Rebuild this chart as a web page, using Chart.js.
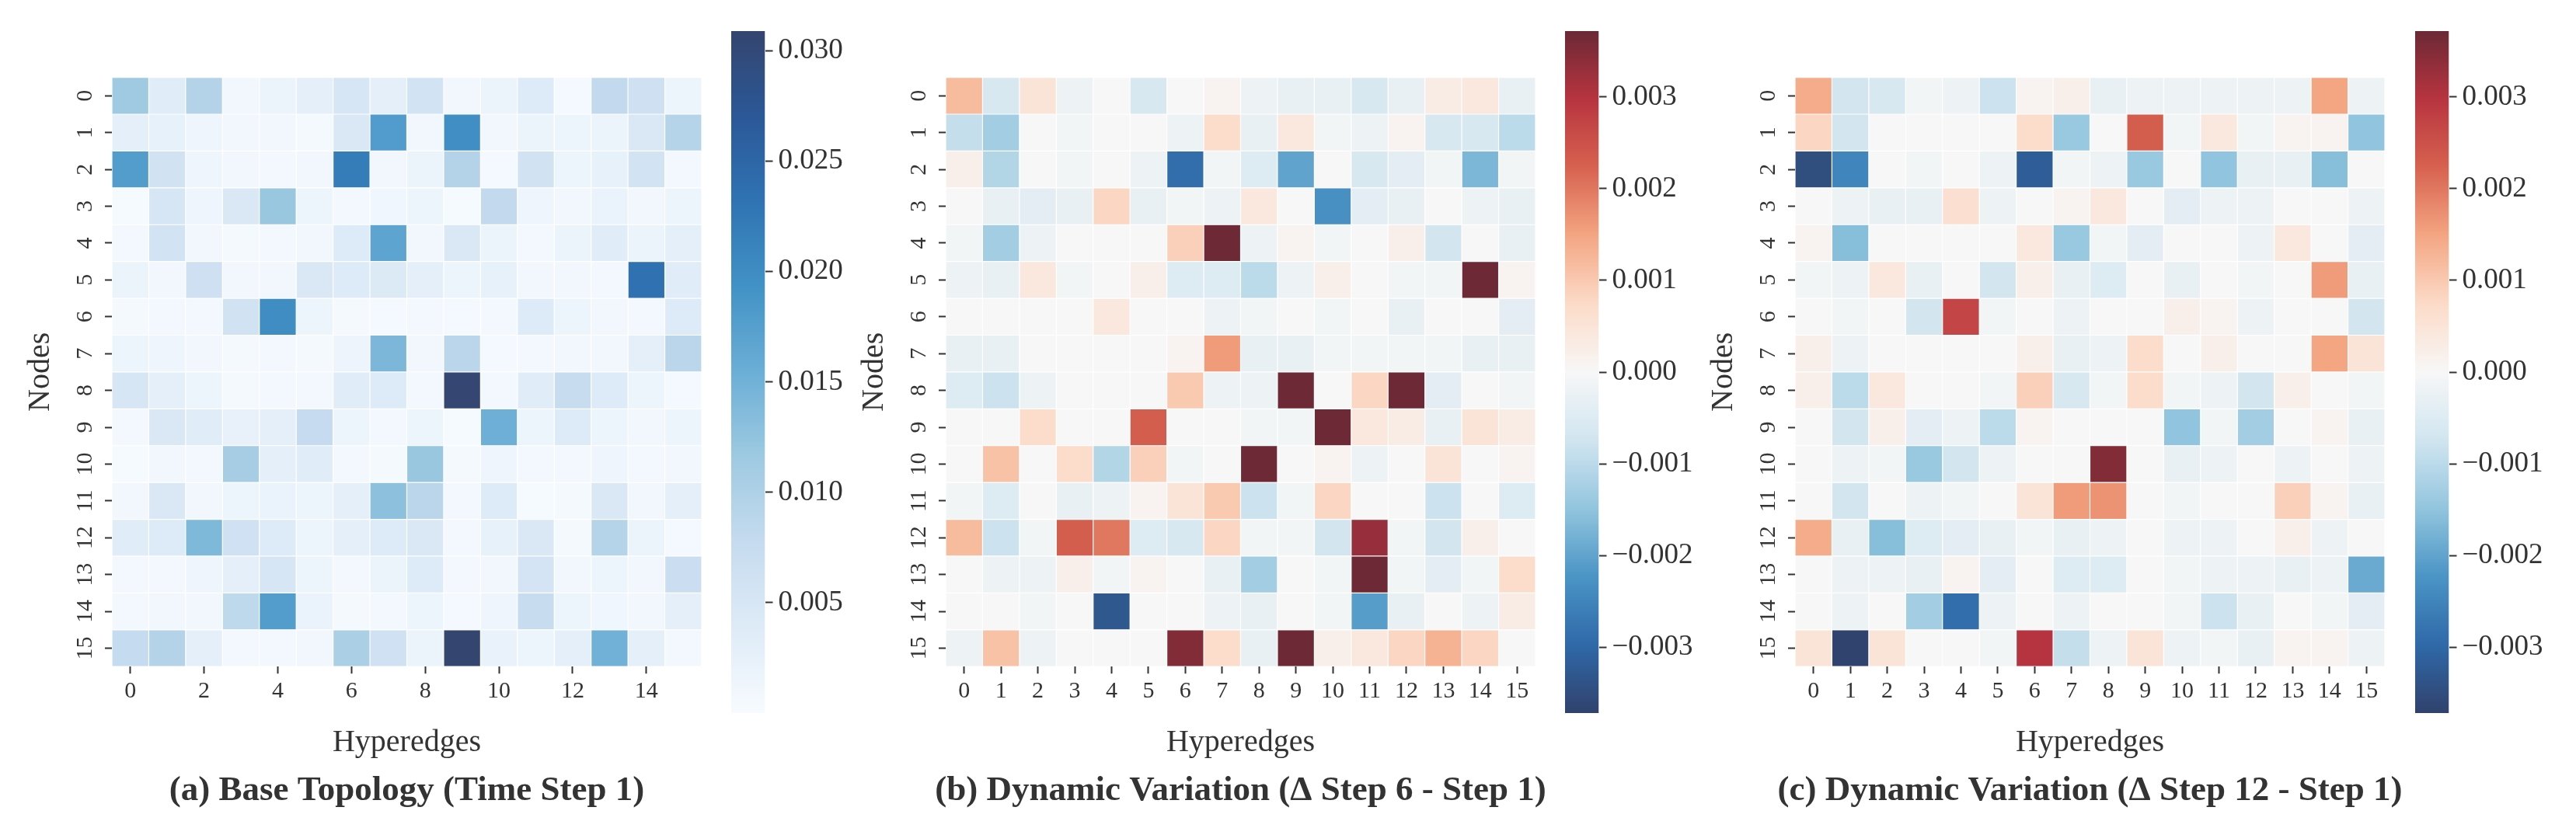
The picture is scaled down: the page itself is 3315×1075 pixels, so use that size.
<!DOCTYPE html>
<html>
<head>
<meta charset="utf-8">
<script src="https://cdn.jsdelivr.net/npm/chart.js@4.4.1/dist/chart.umd.min.js"></script>
<style>
  html, body { margin: 0; padding: 0; background: #ffffff; }
  body { width: 3315px; height: 1075px; position: relative; overflow: hidden; }
  canvas { position: absolute; top: 0; }
</style>
</head>
<body>
<canvas id="hmA" width="1047" height="1075" style="left:0px"></canvas>
<canvas id="cbA" width="200" height="1075" style="left:941px"></canvas>
<canvas id="hmB" width="1047" height="1075" style="left:1073px"></canvas>
<canvas id="cbB" width="200" height="1075" style="left:2014px"></canvas>
<canvas id="hmC" width="1047" height="1075" style="left:2166px"></canvas>
<canvas id="cbC" width="200" height="1075" style="left:3108px"></canvas>
<script>
// ---------------- DATA ----------------
const nodeLabels = ['0','1','2','3','4','5','6','7','8','9','10','11','12','13','14','15'];
const hyperedgeLabels = ['0','1','2','3','4','5','6','7','8','9','10','11','12','13','14','15'];

const titleA = '(a) Base Topology (Time Step 1)';
const titleB = '(b) Dynamic Variation (\u0394 Step 6 - Step 1)';
const titleC = '(c) Dynamic Variation (\u0394 Step 12 - Step 1)';

// (a) base incidence weights, rows = nodes, columns = hyperedges
const baseStep1 = [
  [0.0115,0.0035,0.0095,0.0010,0.0018,0.0030,0.0050,0.0030,0.0058,0.0010,0.0017,0.0040,0.0006,0.0080,0.0065,0.0015],
  [0.0030,0.0025,0.0014,0.0010,0.0009,0.0005,0.0045,0.0179,0.0009,0.0198,0.0009,0.0017,0.0015,0.0017,0.0045,0.0093],
  [0.0178,0.0060,0.0014,0.0009,0.0008,0.0009,0.0219,0.0009,0.0017,0.0095,0.0006,0.0060,0.0015,0.0025,0.0058,0.0008],
  [0.0003,0.0050,0.0014,0.0045,0.0120,0.0015,0.0007,0.0012,0.0015,0.0003,0.0080,0.0014,0.0010,0.0020,0.0010,0.0015],
  [0.0008,0.0058,0.0010,0.0005,0.0008,0.0010,0.0040,0.0168,0.0010,0.0045,0.0017,0.0008,0.0017,0.0035,0.0017,0.0030],
  [0.0017,0.0010,0.0065,0.0010,0.0009,0.0045,0.0040,0.0042,0.0028,0.0015,0.0024,0.0009,0.0010,0.0008,0.0235,0.0035],
  [0.0004,0.0008,0.0008,0.0060,0.0199,0.0015,0.0004,0.0006,0.0008,0.0006,0.0008,0.0040,0.0015,0.0010,0.0007,0.0040],
  [0.0015,0.0014,0.0009,0.0005,0.0008,0.0004,0.0016,0.0142,0.0010,0.0088,0.0006,0.0008,0.0009,0.0010,0.0030,0.0088],
  [0.0050,0.0030,0.0015,0.0005,0.0008,0.0008,0.0035,0.0040,0.0008,0.0307,0.0008,0.0035,0.0075,0.0040,0.0015,0.0006],
  [0.0007,0.0045,0.0035,0.0023,0.0030,0.0077,0.0015,0.0008,0.0015,0.0003,0.0153,0.0015,0.0040,0.0015,0.0010,0.0015],
  [0.0003,0.0009,0.0008,0.0108,0.0030,0.0035,0.0007,0.0005,0.0120,0.0005,0.0014,0.0008,0.0008,0.0014,0.0008,0.0009],
  [0.0010,0.0045,0.0010,0.0015,0.0020,0.0015,0.0030,0.0129,0.0088,0.0008,0.0040,0.0003,0.0005,0.0045,0.0009,0.0030],
  [0.0035,0.0040,0.0140,0.0063,0.0040,0.0015,0.0030,0.0040,0.0045,0.0008,0.0024,0.0045,0.0005,0.0093,0.0017,0.0006],
  [0.0007,0.0008,0.0014,0.0030,0.0050,0.0015,0.0008,0.0018,0.0040,0.0008,0.0010,0.0055,0.0010,0.0015,0.0009,0.0070],
  [0.0008,0.0009,0.0010,0.0085,0.0178,0.0020,0.0005,0.0008,0.0015,0.0006,0.0014,0.0075,0.0015,0.0012,0.0009,0.0030],
  [0.0078,0.0095,0.0030,0.0008,0.0007,0.0010,0.0103,0.0063,0.0017,0.0308,0.0022,0.0015,0.0030,0.0150,0.0030,0.0008]
];

// (b) step 6 - step 1
const deltaStep6 = [
  [0.0012,-0.0006,0.0005,-0.0002,0.0000,-0.0006,0.0000,0.0001,-0.0002,-0.0003,-0.0003,-0.0006,-0.0003,0.0003,0.0004,-0.0003],
  [-0.0009,-0.0013,0.0000,-0.0001,0.0000,0.0000,-0.0002,0.0007,-0.0003,0.0004,-0.0001,-0.0002,0.0001,-0.0006,-0.0006,-0.0010],
  [0.0002,-0.0011,0.0000,-0.0001,0.0000,-0.0002,-0.0029,-0.0001,-0.0005,-0.0020,0.0000,-0.0006,-0.0004,-0.0001,-0.0017,-0.0001],
  [0.0000,-0.0003,-0.0004,-0.0003,0.0008,-0.0003,-0.0001,-0.0002,0.0004,0.0000,-0.0023,-0.0004,-0.0003,0.0000,-0.0002,-0.0003],
  [-0.0001,-0.0013,-0.0002,0.0000,0.0000,0.0000,0.0009,0.0037,-0.0002,0.0001,-0.0001,0.0000,0.0002,-0.0007,0.0000,-0.0003],
  [-0.0002,-0.0003,0.0004,-0.0001,0.0000,0.0002,-0.0005,-0.0005,-0.0010,-0.0002,0.0002,0.0000,-0.0001,-0.0001,0.0037,0.0001],
  [0.0000,0.0000,0.0000,0.0000,0.0004,0.0000,0.0000,-0.0002,-0.0001,0.0000,-0.0001,0.0000,-0.0003,0.0000,0.0000,-0.0004],
  [-0.0003,-0.0003,0.0000,0.0000,0.0000,0.0000,0.0001,0.0016,-0.0003,-0.0003,-0.0001,-0.0001,-0.0001,-0.0001,-0.0003,-0.0003],
  [-0.0005,-0.0008,-0.0002,0.0000,0.0000,0.0000,0.0010,-0.0002,-0.0002,0.0037,0.0000,0.0008,0.0037,-0.0004,0.0000,-0.0001],
  [0.0000,0.0000,0.0007,0.0000,0.0000,0.0023,0.0000,0.0000,-0.0001,-0.0001,0.0037,0.0004,0.0003,-0.0003,0.0005,0.0003],
  [0.0000,0.0011,0.0000,0.0007,-0.0011,0.0009,-0.0001,0.0000,0.0037,0.0000,0.0001,-0.0002,0.0000,0.0005,0.0000,0.0001],
  [-0.0001,-0.0005,0.0000,-0.0003,-0.0002,0.0001,0.0005,0.0010,-0.0008,-0.0001,0.0008,0.0000,0.0000,-0.0008,0.0000,-0.0005],
  [0.0012,-0.0008,-0.0001,0.0023,0.0020,-0.0005,-0.0006,0.0008,-0.0001,-0.0001,-0.0007,0.0033,-0.0001,-0.0007,0.0002,0.0000],
  [0.0000,-0.0002,-0.0002,0.0002,-0.0001,0.0001,0.0000,-0.0003,-0.0013,0.0000,-0.0001,0.0037,-0.0001,-0.0004,-0.0001,0.0007],
  [0.0000,0.0000,-0.0001,0.0000,-0.0033,0.0000,0.0000,-0.0002,-0.0003,0.0000,-0.0001,-0.0021,-0.0003,0.0000,-0.0002,0.0003],
  [-0.0002,0.0011,-0.0002,0.0000,0.0000,0.0000,0.0035,0.0007,-0.0003,0.0037,0.0002,0.0004,0.0008,0.0013,0.0008,0.0000]
];

// (c) step 12 - step 1
const deltaStep12 = [
  [0.0014,-0.0007,-0.0006,-0.0001,-0.0002,-0.0008,0.0001,0.0002,-0.0003,-0.0002,-0.0002,-0.0002,-0.0002,-0.0002,0.0015,-0.0002],
  [0.0008,-0.0007,0.0000,0.0000,0.0000,0.0000,0.0007,-0.0014,0.0000,0.0023,-0.0001,0.0004,-0.0001,0.0001,0.0001,-0.0015],
  [-0.0035,-0.0025,0.0000,-0.0001,0.0000,-0.0002,-0.0032,-0.0001,-0.0002,-0.0014,0.0000,-0.0015,-0.0003,-0.0003,-0.0016,0.0000],
  [0.0000,-0.0002,-0.0003,-0.0003,0.0006,-0.0002,0.0000,0.0001,0.0004,0.0000,-0.0004,-0.0002,-0.0002,0.0000,0.0000,-0.0002],
  [0.0001,-0.0016,0.0000,0.0000,0.0000,0.0000,0.0004,-0.0014,-0.0001,-0.0004,0.0000,0.0000,-0.0002,0.0004,0.0000,-0.0004],
  [-0.0001,-0.0002,0.0004,-0.0003,0.0000,-0.0007,0.0002,-0.0003,-0.0005,0.0000,-0.0003,0.0000,-0.0001,0.0000,0.0016,-0.0003],
  [0.0000,-0.0001,0.0000,-0.0007,0.0027,-0.0001,0.0000,-0.0002,0.0000,0.0000,0.0002,0.0001,-0.0002,0.0000,0.0000,-0.0007],
  [0.0002,-0.0002,0.0000,0.0000,0.0000,0.0000,0.0002,-0.0003,-0.0002,0.0007,0.0000,0.0002,0.0000,0.0000,0.0015,0.0005],
  [0.0002,-0.0010,0.0004,0.0000,0.0000,-0.0001,0.0009,-0.0006,-0.0001,0.0007,-0.0001,-0.0002,-0.0007,0.0002,0.0000,-0.0001],
  [0.0000,-0.0007,0.0002,-0.0004,-0.0002,-0.0010,0.0001,0.0000,0.0000,0.0000,-0.0015,-0.0001,-0.0013,0.0000,0.0001,-0.0003],
  [0.0000,-0.0002,-0.0001,-0.0014,-0.0007,-0.0002,0.0000,0.0000,0.0035,0.0000,-0.0003,-0.0002,0.0000,-0.0002,0.0000,-0.0002],
  [0.0000,-0.0007,0.0000,-0.0002,-0.0001,0.0000,0.0005,0.0016,0.0017,0.0000,-0.0001,0.0000,0.0000,0.0009,0.0001,-0.0003],
  [0.0014,-0.0003,-0.0016,-0.0005,-0.0004,-0.0003,-0.0001,-0.0003,-0.0002,0.0000,-0.0002,-0.0002,0.0000,0.0002,-0.0002,0.0000],
  [0.0000,-0.0002,-0.0002,-0.0003,0.0001,-0.0004,0.0000,-0.0005,-0.0005,0.0000,-0.0001,-0.0002,-0.0002,-0.0003,-0.0002,-0.0019],
  [0.0000,-0.0002,0.0000,-0.0013,-0.0029,-0.0002,0.0000,-0.0002,0.0000,0.0000,-0.0001,-0.0008,-0.0003,0.0000,-0.0001,-0.0004],
  [0.0005,-0.0037,0.0005,0.0000,0.0000,-0.0001,0.0030,-0.0009,-0.0002,0.0005,-0.0002,-0.0001,-0.0003,0.0001,0.0001,-0.0002]
];

// colour-scale limits and colour-bar ticks
const baseRange = [0.0, 0.0309];
const deltaRange = [-0.00372, 0.00372];
const baseBarTicks = [0.005, 0.010, 0.015, 0.020, 0.025, 0.030];
const baseBarLabels = ['0.005', '0.010', '0.015', '0.020', '0.025', '0.030'];
const deltaBarTicks = [-0.003, -0.002, -0.001, 0.000, 0.001, 0.002, 0.003];
const deltaBarLabels = ['\u22120.003', '\u22120.002', '\u22120.001', '0.000', '0.001', '0.002', '0.003'];

// ---------------- STYLE ----------------
const FONT = "'Liberation Serif', 'Times New Roman', serif";
const TXT = '#333333';
const bluesStops = ['#f7fbff','#deebf7','#c6dbef','#9ecae1','#6baed6','#4292c6','#2f73b3','#2b5897','#34456f'];
const rdbuStops = ['#30426c','#2f69a9','#4a94c5','#92c5de','#d1e5f0','#f7f7f7','#fcdbc8','#f4a683','#d7624f','#b8343f','#6b2935'];

function makeCmap(stops) {
  const cols = stops.map(h => [parseInt(h.slice(1,3),16), parseInt(h.slice(3,5),16), parseInt(h.slice(5,7),16)]);
  const n = cols.length - 1;
  return t => {
    t = Math.min(1, Math.max(0, t));
    const x = t * n;
    const i = Math.min(n - 1, Math.floor(x));
    const f = x - i;
    const c = cols[i].map((v, k) => Math.round(v + (cols[i + 1][k] - v) * f));
    return 'rgb(' + c[0] + ',' + c[1] + ',' + c[2] + ')';
  };
}
const blues = makeCmap(bluesStops);
const rdbu = makeCmap(rdbuStops);

const tickGrid = { display: true, offset: false, drawOnChartArea: false, drawTicks: true,
                   tickLength: 9, tickWidth: 2, tickColor: TXT };

function heatmap(id, matrix, cmap, range, title, everyOther) {
  const norm = v => (v - range[0]) / (range[1] - range[0]);
  const datasets = nodeLabels.map((lab, r) => ({
    label: 'Node ' + lab,
    data: hyperedgeLabels.map(() => [r, r + 1]),
    backgroundColor: matrix[r].map(v => cmap(norm(v))),
    borderColor: '#ffffff',
    borderWidth: 0.6,
    borderSkipped: false,
    inflateAmount: 0,
    grouped: false,
    barPercentage: 1,
    categoryPercentage: 1
  }));
  return new Chart(document.getElementById(id), {
    type: 'bar',
    data: { labels: hyperedgeLabels, datasets },
    options: {
      responsive: false,
      animation: false,
      devicePixelRatio: 1,
      events: [],
      layout: { padding: { top: 99.6, bottom: 29.4, left: 0, right: 0 } },
      plugins: {
        legend: { display: false },
        tooltip: { enabled: false },
        title: {
          display: true, position: 'bottom', text: title, color: TXT,
          font: { family: FONT, size: 45, weight: 'bold', lineHeight: 1.2 },
          padding: { top: 11.4, bottom: 0 }
        }
      },
      scales: {
        x: {
          type: 'category',
          offset: true,
          grid: tickGrid,
          border: { display: false },
          ticks: { color: TXT, font: { family: FONT, size: 30 }, padding: 5, maxRotation: 0, autoSkip: false },
          title: { display: true, text: 'Hyperedges', color: TXT,
                   font: { family: FONT, size: 40, lineHeight: 1.2 }, padding: 0 },
          afterBuildTicks: s => { if (everyOther) s.ticks = s.ticks.filter((t, i) => i % 2 === 0); },
          afterFit: s => { s.height = 122; }
        },
        y: {
          type: 'linear', min: 0, max: 16, reverse: true,
          grid: tickGrid,
          border: { display: false },
          afterBuildTicks: s => { s.ticks = nodeLabels.map((l, i) => ({ value: i + 0.5 })); },
          ticks: { color: TXT, font: { family: FONT, size: 30 }, padding: 10, autoSkip: false,
                   minRotation: 90, maxRotation: 90, crossAlign: 'center',
                   callback: (v, i) => nodeLabels[i] },
          title: { display: true, text: 'Nodes', color: TXT,
                   font: { family: FONT, size: 40, lineHeight: 1.2 }, padding: { top: 28.5, bottom: 0 } },
          afterFit: s => { s.width = 144; }
        },
        // empty right-hand spacer so the panel caption is centred on the matrix
        spacer: {
          type: 'linear', position: 'right', display: true,
          grid: { display: false }, border: { display: false },
          ticks: { display: false },
          afterFit: s => { s.width = 144; }
        }
      }
    }
  });
}

function colorbar(id, cmap, range, tickVals, tickLabels) {
  return new Chart(document.getElementById(id), {
    type: 'bar',
    data: {
      labels: ['scale'],
      datasets: [{
        data: [[range[0], range[1]]],
        backgroundColor: (c) => {
          const chart = c.chart;
          const ys = chart.scales.y;
          if (!ys || !chart.chartArea) return 'rgba(0,0,0,0)';
          const y0 = ys.getPixelForValue(range[0]);
          const y1 = ys.getPixelForValue(range[1]);
          const g = chart.ctx.createLinearGradient(0, y0, 0, y1);
          const N = 64;
          for (let i = 0; i <= N; i++) g.addColorStop(i / N, cmap(i / N));
          return g;
        },
        borderWidth: 0,
        inflateAmount: 0,
        barPercentage: 1,
        categoryPercentage: 1
      }]
    },
    options: {
      responsive: false,
      animation: false,
      devicePixelRatio: 1,
      events: [],
      layout: { padding: { top: 40, bottom: 157, left: 0, right: 0 } },
      plugins: { legend: { display: false }, tooltip: { enabled: false } },
      scales: {
        x: { display: false, offset: true },
        y: {
          position: 'right', min: range[0], max: range[1],
          afterBuildTicks: s => { s.ticks = tickVals.map(v => ({ value: v })); },
          ticks: { color: TXT, font: { family: FONT, size: 37 }, padding: 7, autoSkip: false,
                   callback: (v, i) => tickLabels[i] },
          grid: { display: true, drawOnChartArea: false, drawTicks: true, tickLength: 10, tickWidth: 2, tickColor: TXT },
          border: { display: false },
          afterFit: s => { s.width = 156.5; }
        }
      }
    }
  });
}

heatmap('hmA', baseStep1, blues, baseRange, titleA, true);
colorbar('cbA', blues, baseRange, baseBarTicks, baseBarLabels);
heatmap('hmB', deltaStep6, rdbu, deltaRange, titleB, false);
colorbar('cbB', rdbu, deltaRange, deltaBarTicks, deltaBarLabels);
heatmap('hmC', deltaStep12, rdbu, deltaRange, titleC, false);
colorbar('cbC', rdbu, deltaRange, deltaBarTicks, deltaBarLabels);
</script>
</body>
</html>
